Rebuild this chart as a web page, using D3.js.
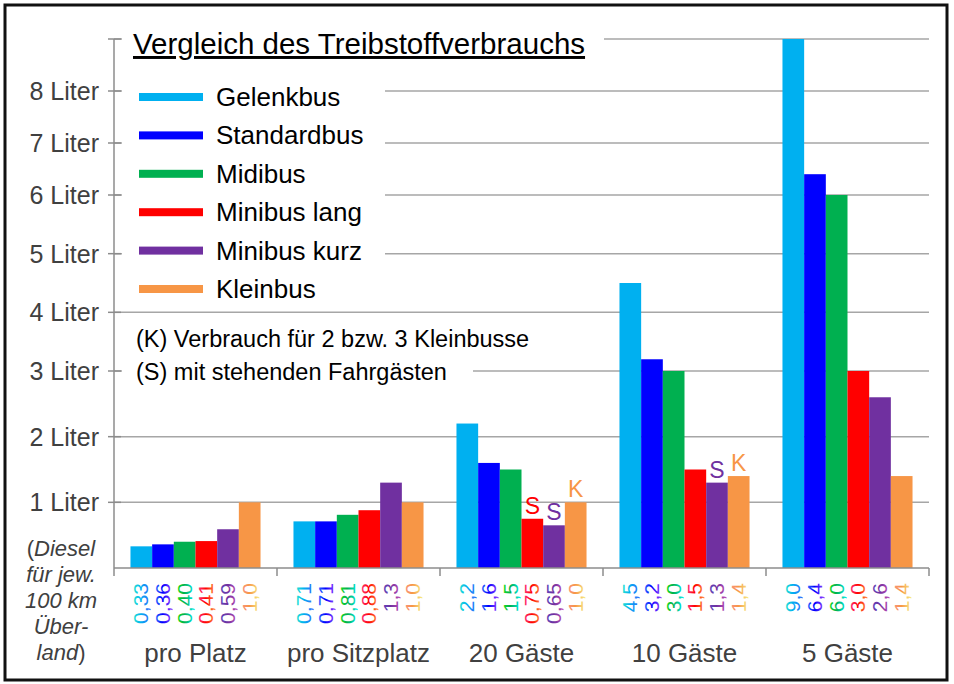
<!DOCTYPE html>
<html>
<head>
<meta charset="utf-8">
<script src="https://cdn.jsdelivr.net/npm/d3@7"></script>
<style>
  body { margin: 0; background: #fff; }
  text { font-family: "Liberation Sans", Arial, sans-serif; }
</style>
</head>
<body>
<div id="chart"></div>
<script>
// Daten
var categories = ["pro Platz", "pro Sitzplatz", "20 Gäste", "10 Gäste", "5 Gäste"];
var series = ["Gelenkbus", "Standardbus", "Midibus", "Minibus lang", "Minibus kurz", "Kleinbus"];
var colors = ["#00B0F0", "#0000FF", "#00B050", "#FF0000", "#7030A0", "#F79646"];

var gelenkbus   = [0.33, 0.71, 2.2, 4.5, 9.0];
var standardbus = [0.36, 0.71, 1.6, 3.2, 6.4];
var midibus     = [0.40, 0.81, 1.5, 3.0, 6.0];
var minibusLang = [0.41, 0.88, 0.75, 1.5, 3.0];
var minibusKurz = [0.59, 1.3, 0.65, 1.3, 2.6];
var kleinbus    = [1.0, 1.0, 1.0, 1.4, 1.4];
var values = [gelenkbus, standardbus, midibus, minibusLang, minibusKurz, kleinbus];

var yTicks = [1, 2, 3, 4, 5, 6, 7, 8];
var gridTicks = [1, 2, 3, 4, 5, 6, 7, 8, 9];

// (S) / (K) Markierungen
var markers = [
	{cat: "20 Gäste", s: "Minibus lang", t: "S"},
	{cat: "20 Gäste", s: "Minibus kurz", t: "S"},
	{cat: "20 Gäste", s: "Kleinbus", t: "K"},
	{cat: "10 Gäste", s: "Minibus kurz", t: "S"},
	{cat: "10 Gäste", s: "Kleinbus", t: "K"}
];

var notes = ["(K) Verbrauch für 2 bzw. 3 Kleinbusse", "(S) mit stehenden Fahrgästen"];

var W = 954, H = 684;
var svg = d3.select("#chart").append("svg").attr("width", W).attr("height", H);
var defs = svg.append("defs");

// Skalen - die y-Achse ist im Original abschnittsweise gestaucht
var y = d3.scaleLinear().domain([0, 3, 6, 9]).range([568, 371, 195, 39]);
var x = d3.scaleBand().domain(categories).range([114, 929]).padding(0);
var xs = d3.scaleBand().domain(series).range([0, x.bandwidth()]).paddingInner(0).paddingOuter(0.76);

// Rahmen
svg.append("rect").attr("x", 5).attr("y", 5).attr("width", 942).attr("height", 675)
	.attr("fill", "none").attr("stroke", "#111").attr("stroke-width", 3);

// Gitterlinien
svg.selectAll(".grid").data(gridTicks).enter().append("line")
	.attr("class", "grid")
	.attr("x1", 114).attr("x2", 929)
	.attr("y1", function(d){ return y(d); }).attr("y2", function(d){ return y(d); })
	.attr("stroke", "#A6A6A6").attr("stroke-width", 1.5);

// Balken
var groups = svg.selectAll(".cat").data(categories).enter().append("g")
	.attr("class", "cat")
	.attr("transform", function(d){ return "translate(" + x(d) + ",0)"; });

groups.selectAll("rect").data(function(d, ci){
		return series.map(function(s, si){ return {s: s, i: si, v: values[si][ci]}; });
	}).enter().append("rect")
	.attr("x", function(d){ return xs(d.s); })
	.attr("width", xs.bandwidth())
	.attr("y", function(d){ return y(d.v); })
	.attr("height", function(d){ return y(0) - y(d.v); })
	.attr("fill", function(d){ return colors[d.i]; });

// Verlaufsfarben fuer Wertbeschriftungen
colors.forEach(function(c, i){
	var g = defs.append("linearGradient").attr("id", "grad" + i)
		.attr("x1", 0).attr("y1", 0).attr("x2", 0).attr("y2", 1);
	var a = d3.hsl(c); a.h -= 35; a.l = Math.min(0.78, a.l + 0.15);
	var b = d3.hsl(c); b.h += 35; b.l = Math.min(0.78, b.l + 0.15);
	g.append("stop").attr("offset", "0%").attr("stop-color", a.formatHex());
	g.append("stop").attr("offset", "50%").attr("stop-color", c);
	g.append("stop").attr("offset", "100%").attr("stop-color", b.formatHex());
});

function fmt(v){
	return (v < 1 ? v.toFixed(2) : v.toFixed(1)).replace(".", ",");
}

groups.selectAll(".val").data(function(d, ci){
		return series.map(function(s, si){ return {s: s, i: si, v: values[si][ci]}; });
	}).enter().append("text")
	.attr("class", "val")
	.attr("transform", function(d){
		return "translate(" + (xs(d.s) + xs.bandwidth() / 2 + 7) + ",583) rotate(-90)";
	})
	.attr("text-anchor", "end")
	.attr("font-size", 21)
	.attr("fill", function(d){ return "url(#grad" + d.i + ")"; })
	.text(function(d){ return fmt(d.v); });

// S / K
svg.selectAll(".mark").data(markers).enter().append("text")
	.attr("class", "mark")
	.attr("x", function(d){ return x(d.cat) + xs(d.s) + xs.bandwidth() / 2; })
	.attr("y", function(d){
		var si = series.indexOf(d.s), ci = categories.indexOf(d.cat);
		return y(values[si][ci]) - 5;
	})
	.attr("text-anchor", "middle")
	.attr("font-size", 23)
	.attr("fill", function(d){ return colors[series.indexOf(d.s)]; })
	.text(function(d){ return d.t; });

// Achsen
svg.append("line").attr("x1", 114).attr("x2", 114).attr("y1", y(9)).attr("y2", y(0))
	.attr("stroke", "#8C8C8C").attr("stroke-width", 1.5);
svg.append("line").attr("x1", 114).attr("x2", 929).attr("y1", y(0)).attr("y2", y(0))
	.attr("stroke", "#8C8C8C").attr("stroke-width", 1.5);
svg.selectAll(".ytick").data(gridTicks).enter().append("line")
	.attr("x1", 108).attr("x2", 121)
	.attr("y1", function(d){ return y(d); }).attr("y2", function(d){ return y(d); })
	.attr("stroke", "#8C8C8C").attr("stroke-width", 1.5);
svg.selectAll(".xtick").data(categories.concat(["end"])).enter().append("line")
	.attr("x1", function(d, i){ return i < categories.length ? x(d) : x.range()[1]; })
	.attr("x2", function(d, i){ return i < categories.length ? x(d) : x.range()[1]; })
	.attr("y1", y(0)).attr("y2", y(0) + 8)
	.attr("stroke", "#8C8C8C").attr("stroke-width", 1.5);

svg.selectAll(".ylab").data(yTicks).enter().append("text")
	.attr("x", 99).attr("y", function(d){ return y(d) + 9; })
	.attr("text-anchor", "end").attr("font-size", 25).attr("fill", "#404040")
	.text(function(d){ return d + " Liter"; });

svg.selectAll(".xlab").data(categories).enter().append("text")
	.attr("x", function(d){ return x(d) + x.bandwidth() / 2; })
	.attr("y", 662)
	.attr("text-anchor", "middle").attr("font-size", 26).attr("fill", "#404040")
	.text(function(d){ return d; });

// Einheit links unten
var unit = [["(", "Diesel", ""], ["", "für jew.", ""], ["", "100 km", ""], ["", "Über-", ""], ["", "land", ")"]];
var ut = svg.append("text").attr("text-anchor", "middle").attr("font-size", 22).attr("fill", "#404040");
unit.forEach(function(l, i){
	var line = ut.append("tspan").attr("x", 61).attr("y", 556 + i * 26);
	if(l[0]) line.append("tspan").text(l[0]);
	line.append("tspan").attr("font-style", "italic").text(l[1]);
	if(l[2]) line.append("tspan").text(l[2]);
});

// Titel und Legende (weisser Hintergrund verdeckt Gitter)
svg.append("rect").attr("x", 122).attr("y", 25).attr("width", 482).attr("height", 42).attr("fill", "#fff");
svg.append("rect").attr("x", 122).attr("y", 67).attr("width", 263).attr("height", 236).attr("fill", "#fff");
svg.append("rect").attr("x", 122).attr("y", 322).attr("width", 351).attr("height", 72).attr("fill", "#fff");

svg.append("text").attr("x", 133).attr("y", 54).attr("font-size", 29.5).attr("fill", "#000")
	.attr("text-decoration", "underline")
	.text("Vergleich des Treibstoffverbrauchs");

var leg = svg.selectAll(".leg").data(series).enter().append("g")
	.attr("transform", function(d, i){ return "translate(139," + (97 + i * 38.4) + ")"; });
leg.append("rect").attr("x", 0).attr("y", -4).attr("width", 64).attr("height", 8)
	.attr("fill", function(d, i){ return colors[i]; });
leg.append("text").attr("x", 77).attr("y", 9).attr("font-size", 26).attr("fill", "#000")
	.text(function(d){ return d; });

svg.selectAll(".note").data(notes).enter().append("text")
	.attr("x", 136).attr("y", function(d, i){ return 347 + i * 33; })
	.attr("font-size", 23.5).attr("fill", "#000")
	.text(function(d){ return d; });
</script>
</body>
</html>
